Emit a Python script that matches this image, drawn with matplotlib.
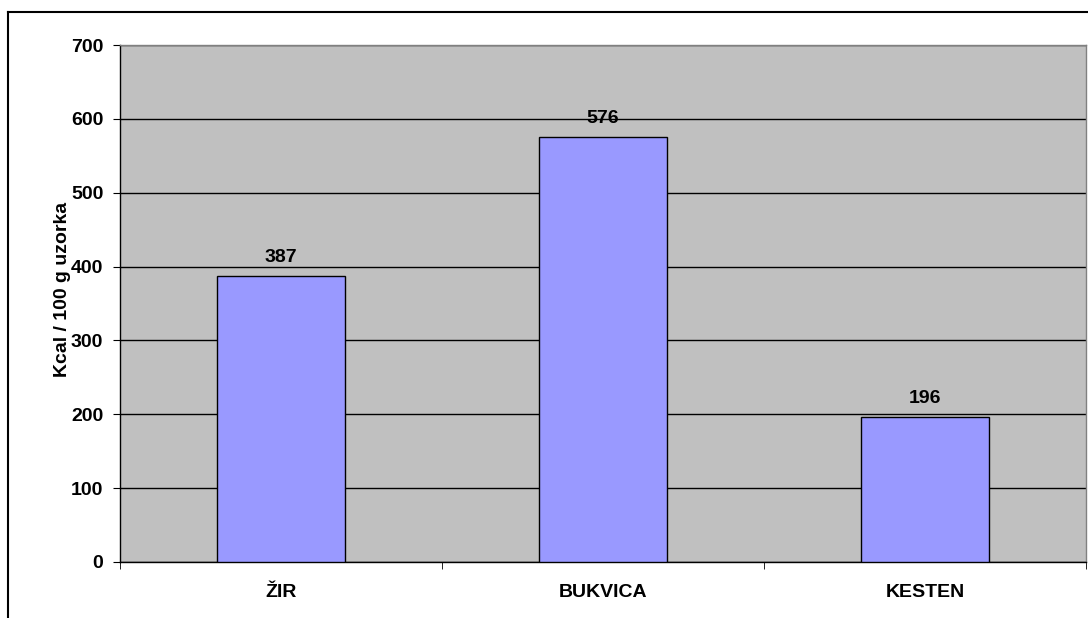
import matplotlib
matplotlib.use("Agg")
import matplotlib.pyplot as plt
from matplotlib.lines import Line2D
import numpy as np

categories = ["ŽIR", "BUKVICA", "KESTEN"]
values = [387, 576, 196]
yticks = [0, 100, 200, 300, 400, 500, 600, 700]

plt.rcParams['font.family'] = ['Liberation Sans', 'DejaVu Sans']

fig = plt.figure(figsize=(10.88, 6.18), dpi=100)
W, H = 1088, 618
ax = fig.add_axes([120 / W, 56 / H, 966 / W, 517 / H])
ax.set_facecolor("#C0C0C0")

x = np.arange(len(categories))
ax.set_axisbelow(True)
ax.yaxis.grid(True, color="black", linewidth=1)
bars = ax.bar(x, values, width=0.4, color="#9999FF", edgecolor="black", linewidth=1, zorder=3)
for xi, v in zip(x, values):
    ax.annotate(str(v), (xi, v), xytext=(0, 10), textcoords="offset points",
                ha="center", va="baseline", fontsize=14, fontweight="bold")

ax.set_xlim(-0.5, len(categories) - 0.5)
ax.set_ylim(0, 700)
ax.set_yticks(yticks)
ax.set_yticklabels([str(t) for t in yticks], fontsize=14, fontweight="bold")
ax.set_xticks(x)
ax.set_xticklabels(categories, fontsize=14, fontweight="bold")
ax.tick_params(axis="x", length=0, pad=16)
ax.set_xticks(np.arange(len(categories) + 1) - 0.5, minor=True)
ax.tick_params(axis="x", which="minor", length=5, direction="out", color="black")
ax.tick_params(axis="y", length=5, direction="out", color="black", pad=7)
ax.set_ylabel("Kcal / 100 g uzorka", fontsize=14, fontweight="bold")
ax.yaxis.set_label_coords(-0.051, 0.527)

for s in ["top", "right"]:
    ax.spines[s].set_color("#808080")
    ax.spines[s].set_linewidth(1)
for s in ["left", "bottom"]:
    ax.spines[s].set_color("black")
    ax.spines[s].set_linewidth(1)

# outer chart border (partially visible)
fig.add_artist(Line2D([8 / W, 1], [1 - 12 / H, 1 - 12 / H], color="black", linewidth=1.5, transform=fig.transFigure))
fig.add_artist(Line2D([8 / W, 8 / W], [0, 1 - 12 / H], color="black", linewidth=1.5, transform=fig.transFigure))

fig.savefig("out.png", dpi=100, facecolor="white")
